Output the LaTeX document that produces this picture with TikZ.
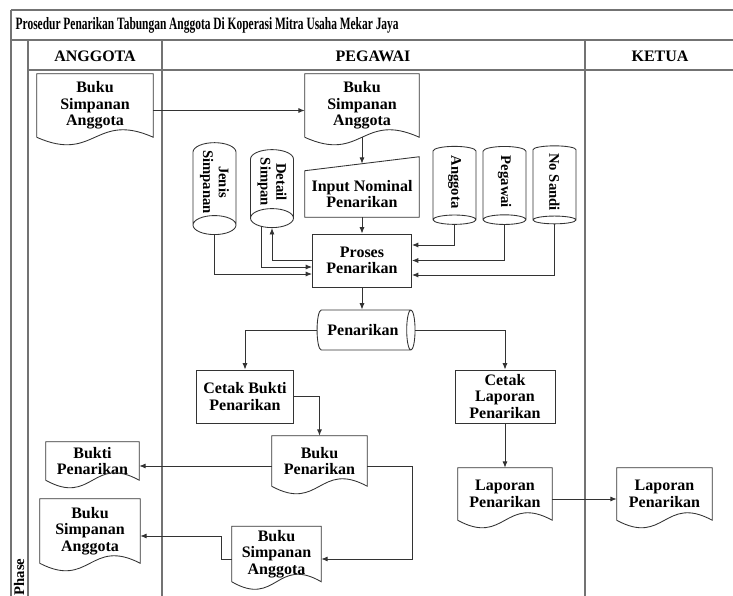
\documentclass[tikz,border=0pt]{standalone}
\usepackage{fontspec}
\setmainfont{Liberation Serif}
\newfontfamily\titlefont[FakeStretch=0.66]{Liberation Serif}
\usetikzlibrary{arrows.meta,calc,shapes.geometric}

\def\px{0.75pt}
\newcommand{\nodefont}{\fontsize{12}{12.5}\selectfont\bfseries}
\newcommand{\dbfont}{\fontsize{11}{11.8}\selectfont\bfseries}

% garis dokumen dengan bawah bergelombang
\newcommand{\docline}[1]{%
  \draw[line] (#1.south west) -- (#1.north west) -- (#1.north east) -- (#1.south east)
    .. controls ($(#1.south)+(0,-26)$) and ($(#1.south)+(0,26)$) .. (#1.south west);}

\tikzset{
  line/.style={draw=black!80, line width=0.65pt},
  lane/.style={draw=black!55, line width=1.1pt},
  flow/.style={line, -{Latex[length=4.8pt,width=3.8pt]}},
  proc/.style={line, rectangle, align=center, font=\nodefont, inner sep=1pt},
  docu/.style={rectangle, align=center, font=\nodefont, inner sep=0pt},
  drum/.style={line, cylinder, shape aspect=0.6, align=center, inner sep=1pt},
  dbase/.style={drum, rotate=-90, font=\dbfont},
}

\begin{document}
\begin{tikzpicture}[x=0.75pt, y=-0.75pt]
    \useasboundingbox (0,0) rectangle (733,596);
    \def\dy{-3.75pt}

    % --- bingkai dan jalur ---
    \draw[lane] (11,10) -- (740,10);
    \draw[lane] (11,10) -- (11,600);
    \draw[lane] (11,40) -- (740,40);
    \draw[lane] (28,40) -- (28,600);
    \draw[lane] (28,70) -- (740,70);
    \draw[lane] (162,40) -- (162,600);
    \draw[lane] (585,40) -- (585,600);

    \node[anchor=west, font=\titlefont\fontsize{13}{14}\selectfont\bfseries] (judul) at (11,25)
        {Prosedur Penarikan Tabungan Anggota Di Koperasi Mitra Usaha Mekar Jaya};
    \node[font=\nodefont] (hAnggota) at (95,56) {ANGGOTA};
    \node[font=\nodefont] (hPegawai) at (373,56) {PEGAWAI};
    \node[font=\nodefont] (hKetua) at (660,56) {KETUA};
    \node[rotate=90, font=\dbfont] (phase) at (19,577) {Phase};

    % --- anggota ---
    \node[docu, minimum width=116*\px, minimum height=63*\px] (a1) at (95,105.5) {Buku\\Simpanan\\Anggota};
    \node[docu, minimum width=93*\px, minimum height=38*\px] (bkt) at (92.5,461) {Bukti\\Penarikan};
    \node[docu, minimum width=100*\px, minimum height=64*\px] (bsa) at (90,531) {Buku\\Simpanan\\Anggota};

    % --- pegawai ---
    \node[docu, minimum width=114*\px, minimum height=63*\px] (p1) at (362,105.5) {Buku\\Simpanan\\Anggota};
    \node[docu, minimum width=114*\px, minimum height=46*\px] (inp) at (362,194) {Input Nominal\\Penarikan};
    \coordinate (inptop) at ($(inp.north)+(0,-7)$);
    \node[proc, minimum width=99*\px, minimum height=53*\px] (proc) at (362,260.5) {Proses\\Penarikan};

    \node[dbase, minimum height=78*\px, minimum width=43*\px] (jen) at (214.5,182) {Jenis\\Simpanan};
    \node[dbase, minimum height=78*\px, minimum width=43*\px] (det) at (272,182) {Detail\\Simpan};
    \node[dbase, minimum height=78*\px, minimum width=43*\px] (ang) at (454.5,182) {Anggota};
    \node[dbase, minimum height=78*\px, minimum width=43*\px] (peg) at (504.5,182) {Pegawai};
    \node[dbase, minimum height=78*\px, minimum width=43*\px] (nsd) at (554.5,182) {No Sandi};

    \node[drum, font=\nodefont, minimum height=98*\px, minimum width=40*\px] (pnr) at (363,330) {Penarikan};

    \node[proc, minimum width=97*\px, minimum height=53*\px] (cbk) at (245,396.5) {Cetak Bukti\\Penarikan};
    \node[proc, minimum width=100*\px, minimum height=53*\px] (clp) at (505,396.5) {Cetak\\Laporan\\Penarikan};

    \node[docu, minimum width=95*\px, minimum height=50*\px] (bpn) at (319.5,461) {Buku\\Penarikan};
    \node[docu, minimum width=89*\px, minimum height=55*\px] (bsp) at (276.5,554) {Buku\\Simpanan\\Anggota};
    \node[docu, minimum width=94*\px, minimum height=52*\px] (lpp) at (505,494) {Laporan\\Penarikan};

    % --- ketua ---
    \node[docu, minimum width=95*\px, minimum height=52*\px] (lpk) at (664.5,494) {Laporan\\Penarikan};

    % garis dokumen
    \docline{a1} \docline{bkt} \docline{bsa} \docline{p1}
    \docline{bpn} \docline{bsp} \docline{lpp} \docline{lpk}
    \draw[line] (inp.south west) -- (inp.north west) -- ($(inp.north east)+(0,-14)$) -- (inp.south east) -- cycle;

    % --- alur ---
    \draw[flow] ([yshift=\dy]a1.east) -- ([yshift=\dy]p1.west);
    \draw[flow] (p1.south) -- (inptop);
    \draw[flow] (inp.south) -- (proc.north);
    \draw[flow] (ang.east) |- ($(proc.east)+(0,-15.5)$);
    \draw[flow] (peg.east) |- (proc.east);
    \draw[flow] (nsd.east) |- ($(proc.east)+(0,14.5)$);
    \draw[flow] (jen.east) |- ($(proc.west)+(0,13.5)$);
    \draw[flow] ($(det.east)+(-11,-2)$) |- ($(proc.west)+(0,6.5)$);
    \draw[flow] (proc.west) -| (det.east);
    \draw[flow] (proc.south) -- (proc.south |- pnr.north);
    \draw[flow] (pnr.west) -| (cbk.north);
    \draw[flow] (pnr.east) -| (clp.north);
    \draw[flow] (cbk.east) -| (bpn.north);
    \draw[flow] (clp.south) -- (lpp.north);
    \draw[flow] ([yshift=\dy]lpp.east) -- ([yshift=\dy]lpk.west);
    \draw[flow] ([yshift=\dy]bpn.west) -- ([yshift=\dy]bkt.east);
    \draw[flow] ([yshift=\dy]bpn.east) -- ++(45,0) |- ([yshift=\dy]bsp.east);
    \draw[flow] ([yshift=\dy]bsp.west) -- ++(-10,0) |- ([yshift=\dy]bsa.east);

\end{tikzpicture}
\end{document}
